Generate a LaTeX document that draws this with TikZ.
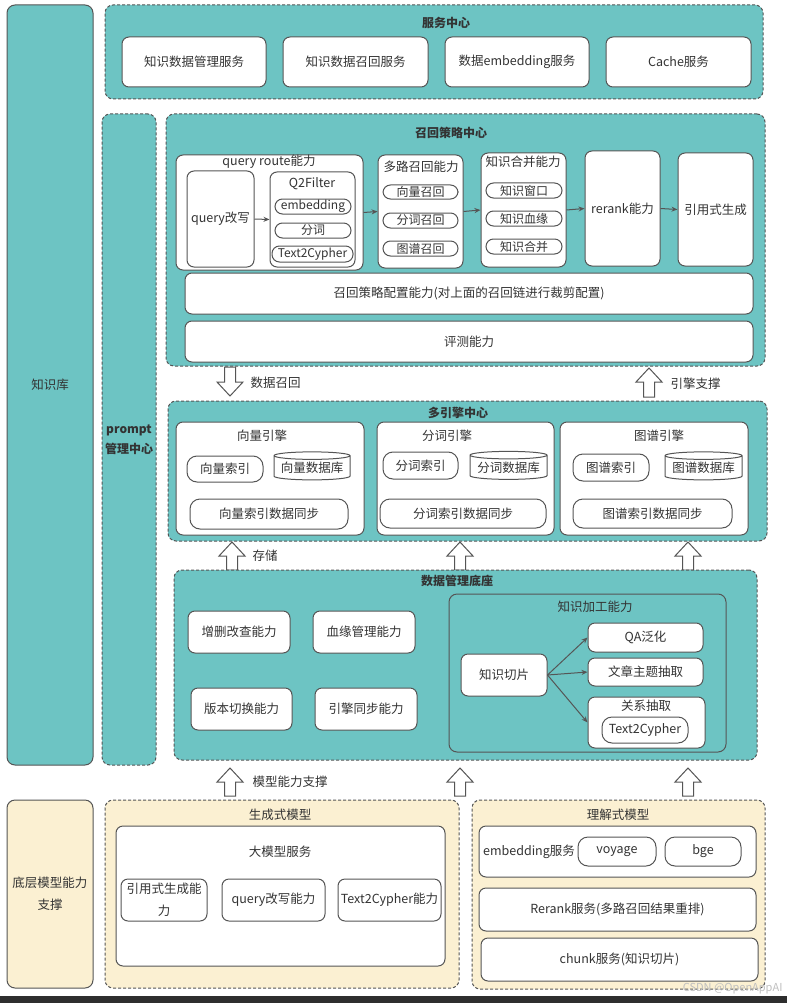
\documentclass[tikz,border=0pt]{standalone}
\usepackage{fontspec}
\setmainfont{Noto Sans CJK SC}
\usetikzlibrary{arrows.meta,shapes.geometric}
\definecolor{tealf}{HTML}{6DC4C3}
\definecolor{beigef}{HTML}{FBF0D2}
\definecolor{edgec}{HTML}{555555}
\definecolor{txt}{HTML}{333333}
\newcommand\mybox[7]{\node[#1, minimum width={(#5-#3)*1pt}, minimum height={(#6-#4)*1pt}] (#2) at ({(#3+#5)/2},{(#4+#6)/2}) {#7};}
\newcommand\blkup[3]{\draw[blk] (#1,#2) -- (#1+13,#2+14) -- (#1+5.5,#2+14) -- (#1+5.5,#3) -- (#1-5.5,#3) -- (#1-5.5,#2+14) -- (#1-13,#2+14) -- cycle;}
\newcommand\blkdown[3]{\draw[blk] (#1-5.5,#2) -- (#1+5.5,#2) -- (#1+5.5,#3-14) -- (#1+13,#3-14) -- (#1,#3) -- (#1-13,#3-14) -- (#1-5.5,#3-14) -- cycle;}
\begin{document}
\begin{tikzpicture}[x=1pt,y=-1pt,
  base/.style={draw=edgec, line width=1pt, inner sep=0pt, align=center, text=txt, font=\fontsize{12.5}{15}\selectfont},
  wbox/.style={base, fill=white, rounded corners=7pt},
  rbox/.style={base, fill=white, rounded corners=10pt},
  pill/.style={base, fill=white, rounded corners=7.5pt, font=\fontsize{12}{13}\selectfont},
  tealc/.style={base, dash pattern=on 3pt off 2pt, fill=tealf, rounded corners=8pt},
  tealsolid/.style={base, fill=tealf, rounded corners=8pt},
  beigec/.style={base, dash pattern=on 3pt off 2pt, fill=beigef, rounded corners=8pt},
  beigesolid/.style={base, fill=beigef, rounded corners=8pt},
  cyl/.style={base, fill=white, cylinder, shape border rotate=90, aspect=0.12},
  ttl/.style={text=txt, font=\bfseries\fontsize{12}{14}\selectfont},
  lbl/.style={text=txt, font=\fontsize{12.5}{15}\selectfont},
  arr/.style={-{Stealth[length=6pt,width=5pt]}, draw=edgec, line width=1pt},
  blk/.style={draw=edgec, line width=1pt, fill=white, line join=miter}
]
\useasboundingbox (0,0) rectangle (787,1003);
\fill[white] (0,0) rectangle (787,1003);

% left columns
\mybox{tealsolid}{kb}{7}{5}{93}{765}{知识库}
\mybox{tealc,font=\bfseries\fontsize{12}{20}\selectfont}{prompt}{102}{114}{156}{765}{prompt\\管理中心}

% service center
\mybox{tealc}{svc}{105}{5}{763}{99}{}
\node[ttl] (svct) at (446,23) {服务中心};
\mybox{wbox}{s1}{122}{37}{266}{87}{知识数据管理服务}
\mybox{wbox}{s2}{283}{37}{428}{87}{知识数据召回服务}
\mybox{wbox}{s3}{445}{37}{589}{87}{数据embedding服务}
\mybox{wbox}{s4}{606}{37}{751}{87}{Cache服务}

% recall strategy center
\mybox{tealc}{rc}{166}{114}{765}{366}{}
\node[ttl] (rct) at (451,133) {召回策略中心};
\mybox{wbox}{route}{176}{155}{363}{270}{}
\node[lbl] (routet) at (269,162) {query route能力};
\mybox{wbox}{qw}{187}{171}{254}{267}{query改写}
\mybox{wbox}{q2}{270}{172}{355}{267}{}
\node[lbl] (q2t) at (312,184) {Q2Filter};
\mybox{pill}{pemb}{275}{199}{351}{214}{embedding}
\mybox{pill}{pfc}{275}{223}{351}{238}{分词}
\mybox{pill}{pt2c}{272}{246}{353}{262}{Text2Cypher}
\mybox{wbox}{multi}{378}{155}{463}{268}{}
\node[lbl] (multit) at (421,167) {多路召回能力};
\mybox{pill}{m1}{383}{185}{458}{199}{向量召回}
\mybox{pill}{m2}{383}{213}{458}{228}{分词召回}
\mybox{pill}{m3}{383}{241}{458}{256}{图谱召回}
\mybox{wbox}{merge}{481}{153}{566}{267}{}
\node[lbl] (merget) at (523,162) {知识合并能力};
\mybox{pill}{k1}{486}{183}{562}{198}{知识窗口}
\mybox{pill}{k2}{486}{211}{562}{226}{知识血缘}
\mybox{pill}{k3}{486}{239}{562}{254}{知识合并}
\mybox{wbox}{rerank}{585}{151}{660}{266}{rerank能力}
\mybox{wbox}{cite}{678}{153}{753}{266}{引用式生成}
\mybox{wbox}{cfg}{185}{273}{753}{314}{召回策略配置能力(对上面的召回链进行裁剪配置)}
\mybox{wbox}{eval}{185}{321}{753}{362}{评测能力}
\draw[arr] (qw.east) -- (q2.west);
\draw[arr] (route.east) -- (multi.west);
\draw[arr] (multi.east) -- (merge.west);
\draw[arr] (merge.east) -- (rerank.west);
\draw[arr] (rerank.east) -- (cite.west);

% block arrows between recall and engines
\blkdown{230}{367}{396}
\node[lbl, anchor=west] (l1) at (247,383) {数据召回};
\blkup{649}{368}{397}
\node[lbl, anchor=west] (l2) at (667,384) {引擎支撑};

% multi engine center
\mybox{tealc}{me}{168}{401}{767}{541}{}
\node[ttl] (met) at (458,413) {多引擎中心};
\mybox{wbox}{ve}{176}{422}{364}{535}{}
\node[lbl] (vet) at (262,436) {向量引擎};
\mybox{rbox}{vi}{187}{456}{263}{482}{向量索引}
\node[cyl, minimum width=76pt, minimum height=28pt] (vdb) at (312,468) {向量数据库};
\mybox{rbox}{vs}{190}{499}{348}{529}{向量索引数据同步}
\mybox{wbox}{we}{377}{422}{554}{535}{}
\node[lbl] (wet) at (447,436) {分词引擎};
\mybox{rbox}{wi}{383}{452}{458}{479}{分词索引}
\node[cyl, minimum width=77pt, minimum height=28pt] (wdb) at (508.5,467.5) {分词数据库};
\mybox{rbox}{ws}{380}{499}{546}{528}{分词索引数据同步}
\mybox{wbox}{ge}{560}{422}{748}{535}{}
\node[lbl] (get) at (659,436) {图谱引擎};
\mybox{rbox}{gi}{573}{454}{649}{481}{图谱索引}
\node[cyl, minimum width=77pt, minimum height=28pt] (gdb) at (703.5,468) {图谱数据库};
\mybox{rbox}{gs}{573}{499}{732}{528}{图谱索引数据同步}

% block arrows between engines and data base
\blkup{232}{542}{570}
\node[lbl, anchor=west] (l3) at (249,556) {存储};
\blkup{460}{542}{570}
\blkup{688}{542}{570}

% data management base
\mybox{tealc}{dm}{174}{570}{757}{760}{}
\node[ttl] (dmt) at (457,581) {数据管理底座};
\mybox{wbox}{crud}{188}{611}{290}{653}{增删改查能力}
\mybox{wbox}{lin}{313}{611}{415}{653}{血缘管理能力}
\mybox{wbox}{ver}{191}{688}{292}{730}{版本切换能力}
\mybox{wbox}{esy}{315}{688}{417}{730}{引擎同步能力}
\mybox{tealsolid}{kproc}{449}{594}{726}{752}{}
\node[lbl] (kproct) at (595,607) {知识加工能力};
\mybox{wbox}{kp}{461}{654}{547}{696}{知识切片}
\mybox{wbox}{qa}{588}{623}{703}{652}{QA泛化}
\mybox{wbox}{topic}{588}{658}{703}{686}{文章主题抽取}
\mybox{wbox}{rel}{588}{697}{705}{748}{}
\node[lbl] (relt) at (646,706) {关系抽取};
\mybox{rbox}{t2c}{602}{717}{688}{743}{Text2Cypher}
\draw[arr] (kp.east) -- (qa.west);
\draw[arr] (kp.east) -- (topic.west);
\draw[arr] (kp.east) -- (rel.west);

% block arrows between data base and models
\blkup{230}{768}{796}
\node[lbl, anchor=west] (l4) at (249,782) {模型能力支撑};
\blkup{460}{768}{796}
\blkup{688}{768}{796}

% model layer
\mybox{beigesolid,font=\fontsize{12.5}{22}\selectfont}{base}{7}{800}{93}{988}{底层模型能力\\支撑}
\mybox{beigec}{gen}{105}{800}{459}{988}{}
\node[lbl] (gent) at (280,815) {生成式模型};
\mybox{wbox}{llm}{116}{826}{445}{966}{}
\node[lbl] (llmt) at (280,852) {大模型服务};
\mybox{wbox,font=\fontsize{12.5}{22}\selectfont}{cg}{121}{879}{207}{921}{引用式生成能\\力}
\mybox{wbox}{qrw}{222}{879}{325}{921}{query改写能力}
\mybox{wbox}{t2cc}{338}{879}{441}{921}{Text2Cypher能力}
\mybox{beigec}{und}{472}{800}{765}{989}{}
\node[lbl] (undt) at (618,815) {理解式模型};
\mybox{wbox}{emb}{479}{826}{756}{877}{}
\node[lbl] (embt) at (529,852) {embedding服务};
\mybox{rbox}{voy}{578}{837}{656}{866}{voyage}
\mybox{rbox}{bge}{665}{837}{741}{866}{bge}
\mybox{wbox}{rr}{479}{888}{756}{931}{Rerank服务(多路召回结果重排)}
\mybox{wbox}{ck}{481}{938}{758}{981}{chunk服务(知识切片)}

% bottom bar and watermark
\fill[black!82] (0,996) rectangle (787,1003);
\node[text=black!25, font=\fontsize{11}{12}\selectfont, anchor=east] (wm) at (786,989) {CSDN @OpenAppAI};
\end{tikzpicture}
\end{document}
